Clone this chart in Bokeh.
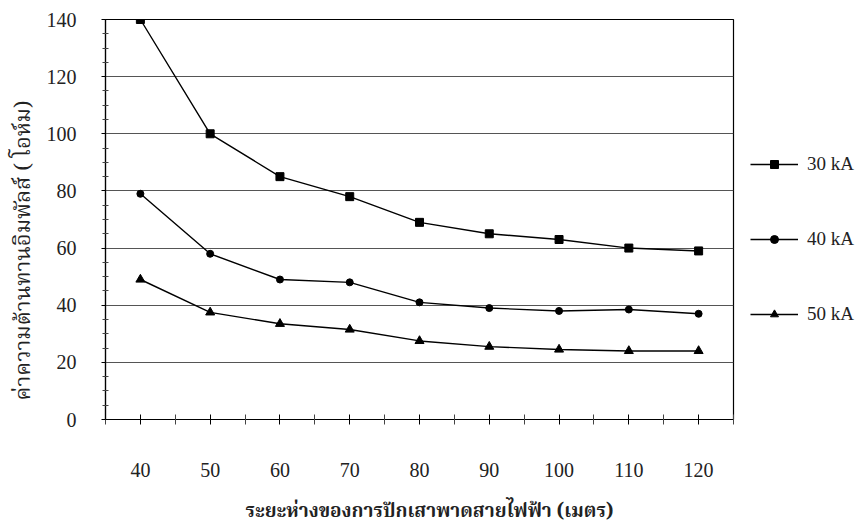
from bokeh.plotting import figure
from bokeh.models import Legend, LegendItem, FixedTicker, Range1d, Title
from bokeh.embed import file_html
from bokeh.resources import INLINE

# ---- data ----
distance = [40, 50, 60, 70, 80, 90, 100, 110, 120]
r_30ka = [140, 100, 85, 78, 69, 65, 63, 60, 59]
r_40ka = [79, 58, 49, 48, 41, 39, 38, 38.5, 37]
r_50ka = [49, 37.5, 33.5, 31.5, 27.5, 25.5, 24.5, 24, 24]
series_names = ["30 kA", "40 kA", "50 kA"]
x_ticks = [40, 50, 60, 70, 80, 90, 100, 110, 120]
x_minor = [35, 45, 55, 65, 75, 85, 95, 105, 115, 125]
y_ticks = [0, 20, 40, 60, 80, 100, 120, 140]
y_minor = [5, 10, 15, 25, 30, 35, 45, 50, 55, 65, 70, 75, 85, 90, 95, 105, 110, 115, 125, 130, 135]
x_title = "ระยะห่างของการปักเสาพาดสายไฟฟ้า (เมตร)"
y_title = "ค่าความต้านทานอิมพัลส์ ( โอห์ม)"

SERIF = "Liberation Serif"
THAI = "Norasi, 'Noto Serif Thai', 'Noto Sans Thai Looped', serif"

p = figure(frame_width=628, frame_height=400, output_backend="svg", toolbar_location=None,
           x_range=Range1d(35, 125), y_range=Range1d(0, 140),
           min_border_left=105, min_border_top=19, min_border_right=128,
           min_border_bottom=112, background_fill_color="white",
           border_fill_color="white")

p.outline_line_color = "black"
p.outline_line_width = 1.2
p.xgrid.grid_line_color = None
p.ygrid.grid_line_color = "#555555"
p.ygrid.grid_line_width = 1

p.xaxis.ticker = FixedTicker(ticks=x_ticks, minor_ticks=x_minor)
p.yaxis.ticker = FixedTicker(ticks=y_ticks, minor_ticks=y_minor)

for ax in (p.xaxis[0], p.yaxis[0]):
    ax.axis_line_color = "black"
    ax.axis_line_width = 1.2
    ax.major_tick_line_color = "black"
    ax.minor_tick_line_color = "#444444"
    ax.major_label_text_font = SERIF
    ax.major_label_text_font_size = "20px"
    ax.major_label_text_color = "#222222"

p.xaxis.major_tick_in = 5
p.xaxis.major_tick_out = 5
p.xaxis.minor_tick_in = 5
p.xaxis.minor_tick_out = 5
p.xaxis.major_label_standoff = 38

p.yaxis.major_tick_in = 0
p.yaxis.major_tick_out = 4
p.yaxis.minor_tick_in = 3
p.yaxis.minor_tick_out = 3
p.yaxis.major_label_standoff = 25

xtitle = Title(text=x_title, align="left", offset=140, standoff=30,
               text_font=THAI, text_font_size="19px", text_font_style="bold",
               text_color="#222222")
p.add_layout(xtitle, "below")

ytitle = Title(text=y_title, align="left", offset=19, standoff=3,
               text_font=THAI, text_font_size="22px", text_font_style="normal",
               text_color="#222222")
p.add_layout(ytitle, "left")

items = []
for vals, marker, size, name in ((r_30ka, "square", 8, series_names[0]),
                                 (r_40ka, "circle", 7, series_names[1]),
                                 (r_50ka, "triangle", 9, series_names[2])):
    ln = p.line(distance, vals, line_color="black", line_width=1.4)
    sc = p.scatter(distance, vals, marker=marker, size=size,
                   fill_color="black", line_color="black")
    items.append(LegendItem(label=name, renderers=[ln, sc]))

legend = Legend(items=items, location=(17, 94), glyph_width=48, glyph_height=20,
                label_height=20,
                label_text_font=SERIF, label_text_font_size="19px",
                label_text_color="#222222", spacing=53, padding=0, margin=0,
                border_line_alpha=0, background_fill_alpha=0, label_standoff=9)
p.add_layout(legend, "right")

open("out.html", "w").write(file_html(p, INLINE))
